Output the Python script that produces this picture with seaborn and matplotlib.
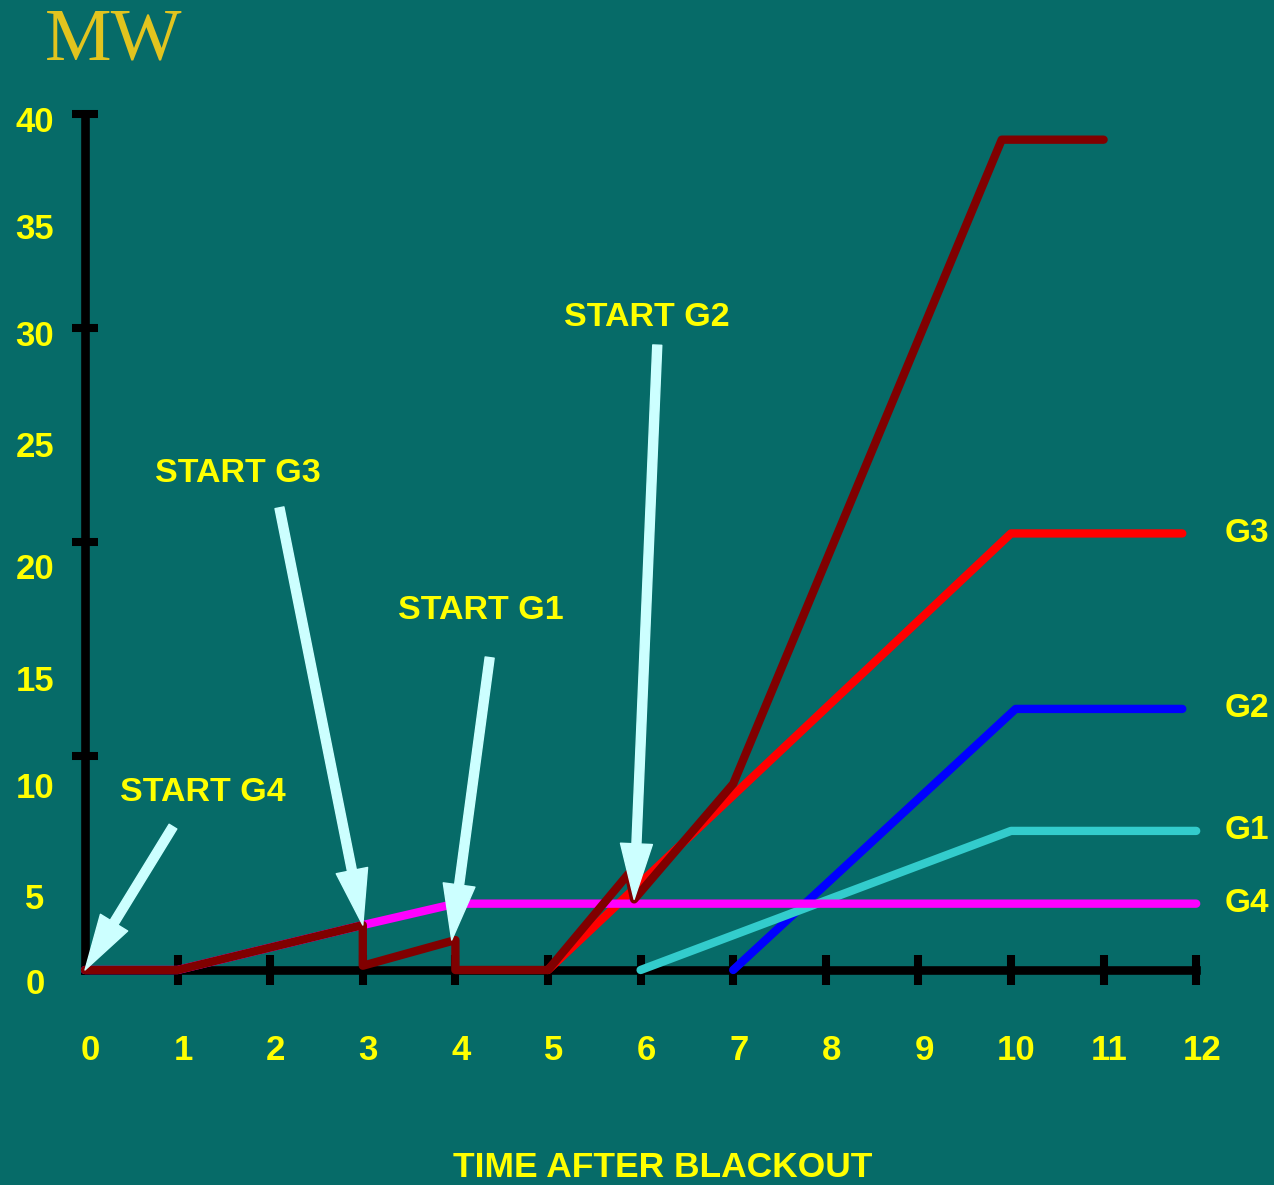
import matplotlib
matplotlib.use("Agg")
import matplotlib.pyplot as plt
import seaborn as sns

# ---------------- data ----------------
g4_time = [0, 1, 3, 4, 12]
g4_mw = [0, 0, 2.1, 3.1, 3.1]
g3_time = [5, 10, 11.85]
g3_mw = [0, 20.4, 20.4]
g2_time = [7, 10.05, 11.85]
g2_mw = [0, 12.2, 12.2]
g1_time = [6, 10, 12]
g1_mw = [0, 6.5, 6.5]
total_time = [0, 1, 3, 3, 4, 4, 5, 5.87, 5.93, 7, 9.9, 11]
total_mw = [0, 0, 2.1, 0.2, 1.4, 0, 0, 4.5, 3.3, 8.7, 38.8, 38.8]

x_tick_values = list(range(0, 13))
y_tick_values = [0, 5, 10, 15, 20, 25, 30, 35, 40]
series_names = ["G3", "G2", "G1", "G4"]

# ---------------- style ----------------
BG = "#066B68"
YEL = "#FFFF00"
ARROW = "#CCFFFF"
sns.set_style("white")
plt.rcParams["font.family"] = ["Liberation Sans", "DejaVu Sans"]

fig = plt.figure(figsize=(12.74, 11.85), dpi=100, facecolor=BG)
ax = fig.add_axes([0, 0, 1, 1])
ax.set_facecolor(BG)

X0, PXX = 85.0, 92.6   # pixel of x=0, pixels per unit
Y0, PXY = 970.0, 21.4  # pixel of y=0, pixels per MW
ax.set_xlim(-X0 / PXX, (1274 - X0) / PXX)
ax.set_ylim((Y0 - 1185) / PXY, Y0 / PXY)

LW = 6.0
common = dict(estimator=None, sort=False, linewidth=LW, ax=ax, legend=False)
sns.lineplot(x=g3_time, y=g3_mw, color="#FF0000", zorder=3, **common)
sns.lineplot(x=g2_time, y=g2_mw, color="#0000FF", zorder=3, **common)
sns.lineplot(x=g1_time, y=g1_mw, color="#33CCCC", zorder=3, **common)
sns.lineplot(x=g4_time, y=g4_mw, color="#FF00FF", zorder=4, **common)
sns.lineplot(x=total_time, y=total_mw, color="#800000", zorder=5, **common)
for ln in ax.lines:
    ln.set_solid_capstyle("round")
    ln.set_solid_joinstyle("round")

# ---------------- axes ----------------
for s in ["top", "right"]:
    ax.spines[s].set_visible(False)
ax.spines["left"].set_position(("data", 0))
ax.spines["bottom"].set_position(("data", 0))
ax.spines["left"].set_bounds(0, 40)
ax.spines["bottom"].set_bounds(0, 12)
for s in ["left", "bottom"]:
    ax.spines[s].set_linewidth(6.2)
    ax.spines[s].set_color("black")
    ax.spines[s].set_zorder(2)
ax.set_xticks(range(1, 13))
ax.set_yticks([10, 20, 30, 40])
ax.tick_params(axis="x", bottom=True, direction="inout", length=21.6, width=5.8,
               color="black", labelbottom=False)
ax.tick_params(axis="y", left=True, direction="inout", length=18.7, width=5.8,
               color="black", labelleft=False)
ax.set_xlabel("")
ax.set_ylabel("")

# tick labels (drawn as text to match the hand-placed originals)
y_nudge = [-0.7, -1.7, -1.5, -1.5, -1.3, -0.6, -0.4, -0.4, -0.4]
for v, dy in zip(y_tick_values, y_nudge):
    ax.text(-0.54, v + dy, str(v), color=YEL, fontsize=25, fontweight="bold",
            ha="center", va="center")
for v in x_tick_values:
    ax.text(v + 0.06, -3.74, str(v), color=YEL, fontsize=25, fontweight="bold",
            ha="center", va="center")

# series labels at the right
ends = [g3_mw[-1], g2_mw[-1], g1_mw[-1], g4_mw[-1]]
for name, v in zip(series_names, ends):
    ax.text(12.31, v, name, color=YEL, fontsize=24, fontweight="bold",
            ha="left", va="center")

# start annotations
arrow_style = "simple,head_length=40,head_width=23,tail_width=6.5"
starts = [
    ("START G4", (1.27, 8.3), (0.95, 6.7), (0.0, 0.0)),
    ("START G3", (1.65, 23.2), (2.1, 21.6), (3.0, 2.1)),
    ("START G1", (4.27, 16.8), (4.37, 14.6), (3.96, 1.4)),
    ("START G2", (6.07, 30.5), (6.18, 29.2), (5.93, 3.3)),
]
for label, tpos, tail, tip in starts:
    ax.text(tpos[0], tpos[1], label, color=YEL, fontsize=24.5, fontweight="bold",
            ha="center", va="center", zorder=7)
    ax.annotate("", xy=tip, xytext=tail, zorder=6,
                arrowprops=dict(arrowstyle=arrow_style, color=ARROW,
                                mutation_scale=1, shrinkA=0, shrinkB=0))

# titles
fig.text(45 / 1274, 1 - 59 / 1185, "MW", color="#E2C41E", fontsize=54,
         family=["Liberation Serif", "DejaVu Serif"], ha="left", va="baseline")
fig.text(663 / 1274, 1 - 1177 / 1185, "TIME AFTER BLACKOUT", color=YEL, fontsize=25.5,
         fontweight="bold", ha="center", va="baseline")

fig.savefig("out.png", dpi=100, facecolor=BG)
